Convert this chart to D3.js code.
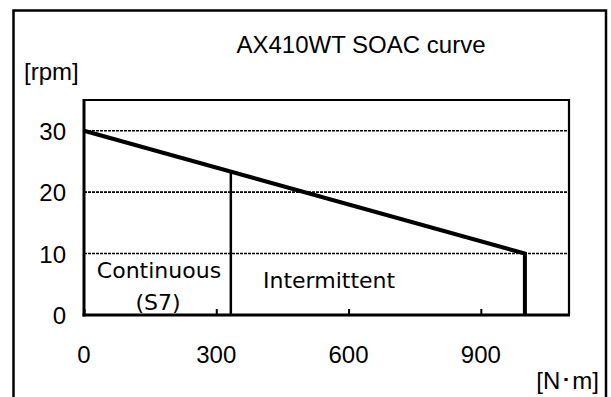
<!DOCTYPE html>
<html>
<head>
<meta charset="utf-8">
<script src="https://cdn.jsdelivr.net/npm/d3@7"></script>
<style>
  html, body { margin: 0; padding: 0; background: #fff; }
  svg { display: block; }
</style>
</head>
<body>
<svg id="chart" width="611" height="397"></svg>
<script>
// ---- data ----
const title = "AX410WT SOAC curve";
const yUnit = "[rpm]";
const xUnit = "[N･m]";
const torque = [0, 1000, 1000];          // N·m
const speed = [30, 10, 0];               // rpm
const continuousLimit = 333;             // N·m boundary of continuous (S7) zone
const xTicks = [0, 300, 600, 900];
const yTicks = [0, 10, 20, 30];
const gridValues = [10, 20, 30];
const xDomain = [0, 1100];
const yDomain = [0, 35];
const zoneLabels = ["Continuous", "(S7)", "Intermittent"];

// ---- drawing ----
const svg = d3.select("#chart");
const x = d3.scaleLinear().domain(xDomain).range([84, 569]);
const y = d3.scaleLinear().domain(yDomain).range([315, 100]);

// outer frame
svg.append("rect")
  .attr("x", 13.5).attr("y", 10.5).attr("width", 592.5).attr("height", 400)
  .attr("fill", "none").attr("stroke", "#000").attr("stroke-width", 2.5);

// plot frame (top & right)
svg.append("path")
  .attr("d", `M${x(xDomain[0])},${y(yDomain[1])}H${x(xDomain[1])}V${y(0)}`)
  .attr("fill", "none").attr("stroke", "#000").attr("stroke-width", 2.2);

// gridlines
svg.append("g").selectAll("line").data(gridValues).join("line")
  .attr("x1", x(xDomain[0])).attr("x2", x(xDomain[1]))
  .attr("y1", d => y(d)).attr("y2", d => y(d))
  .attr("stroke", "#000").attr("stroke-width", 1.6)
  .attr("stroke-dasharray", "3,1");

// left axis line
svg.append("line")
  .attr("x1", x(0)).attr("x2", x(0)).attr("y1", y(yDomain[1]) - 1).attr("y2", y(0) + 1.5)
  .attr("stroke", "#000").attr("stroke-width", 3);

// x axis with inward ticks
const xAxis = d3.axisBottom(x).tickValues(xTicks).tickSize(-6).tickFormat("");
const gx = svg.append("g").attr("transform", `translate(0,${y(0)})`).call(xAxis);
gx.select(".domain").remove();
gx.selectAll(".tick line").attr("stroke", "#000").attr("stroke-width", 2);
svg.append("line")
  .attr("x1", x(0) - 1.5).attr("x2", x(xDomain[1]) + 1)
  .attr("y1", y(0)).attr("y2", y(0))
  .attr("stroke", "#000").attr("stroke-width", 3);

// continuous zone boundary
svg.append("line")
  .attr("x1", x(continuousLimit)).attr("x2", x(continuousLimit))
  .attr("y1", y(0))
  .attr("y2", y(speed[0] + (speed[1] - speed[0]) * continuousLimit / torque[1]))
  .attr("stroke", "#000").attr("stroke-width", 2.5);

// SOAC curve
const line = d3.line().x(d => x(d[0])).y(d => y(d[1]));
svg.append("path")
  .datum(torque.map((t, i) => [t, speed[i]]))
  .attr("d", line)
  .attr("fill", "none").attr("stroke", "#000").attr("stroke-width", 4)
  .attr("stroke-linejoin", "miter");

// tick labels
const font = "'Liberation Sans', Arial, sans-serif";
svg.append("g").selectAll("text").data(xTicks).join("text")
  .attr("x", d => x(d)).attr("y", 363)
  .attr("text-anchor", "middle")
  .attr("font-family", font).attr("font-size", 24)
  .text(d => d);
svg.append("g").selectAll("text").data(yTicks).join("text")
  .attr("x", 66).attr("y", d => y(d) + 9)
  .attr("text-anchor", "end")
  .attr("font-family", font).attr("font-size", 24)
  .text(d => d);

// title and units
svg.append("text").attr("x", 361).attr("y", 53)
  .attr("text-anchor", "middle").attr("font-family", font).attr("font-size", 24)
  .text(title);
svg.append("text").attr("x", 24).attr("y", 80)
  .attr("font-family", font).attr("font-size", 24)
  .text(yUnit);
svg.append("text").attr("x", 599).attr("y", 389)
  .attr("text-anchor", "end").attr("font-family", font).attr("font-size", 24)
  .text(xUnit);

// zone labels
const zfont = "'DejaVu Sans', sans-serif";
svg.append("text").attr("x", 159).attr("y", 278)
  .attr("text-anchor", "middle").attr("font-family", zfont).attr("font-size", 22)
  .text(zoneLabels[0]);
svg.append("text").attr("x", 158).attr("y", 310)
  .attr("text-anchor", "middle").attr("font-family", zfont).attr("font-size", 22)
  .text(zoneLabels[1]);
svg.append("text").attr("x", 263).attr("y", 288)
  .attr("font-family", zfont).attr("font-size", 22)
  .text(zoneLabels[2]);
</script>
</body>
</html>
